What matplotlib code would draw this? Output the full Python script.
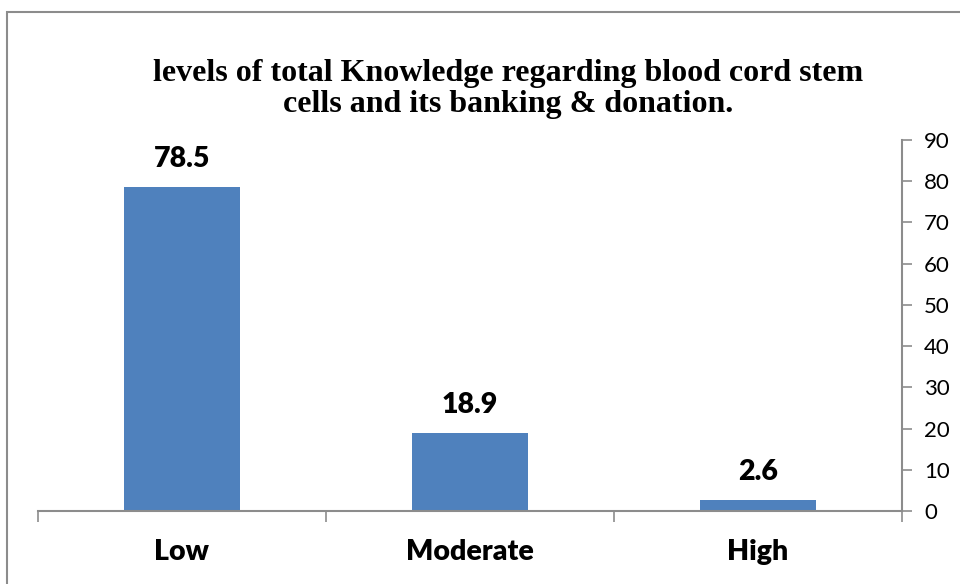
import matplotlib
matplotlib.use("Agg")
import matplotlib.pyplot as plt
from matplotlib.patches import Rectangle

categories = ["Low", "Moderate", "High"]
values = [78.5, 18.9, 2.6]
yticks = [0, 10, 20, 30, 40, 50, 60, 70, 80, 90]
title = "levels of total Knowledge regarding blood cord stem\ncells and its banking & donation."

W, H = 960, 584
fig = plt.figure(figsize=(W/100, H/100), dpi=100)
fig.patches.append(Rectangle((7/W, -0.1), 1.2, 1 - 12/H + 0.1, transform=fig.transFigure,
                             fill=False, edgecolor="#8c8c8c", linewidth=1.5))

ax = fig.add_axes([38/W, 1 - 511/H, (902-38)/W, (511-140)/H])
x = range(len(categories))
ax.bar(x, values, width=0.40, color="#4F81BD", zorder=2)
ax.set_xlim(-0.5, len(categories) - 0.5)
ax.set_ylim(0, 90)

for s in ["top", "left"]:
    ax.spines[s].set_visible(False)
ax.spines["bottom"].set_color("#8c8c8c")
ax.spines["bottom"].set_linewidth(1.5)
ax.spines["right"].set_color("#8c8c8c")
ax.spines["right"].set_linewidth(1.5)

ax.yaxis.tick_right()
ax.set_yticks(yticks)
ax.set_yticklabels([str(t) for t in yticks], fontsize=16, family="Lato")
ax.tick_params(axis="y", direction="out", length=7, color="#8c8c8c", width=1.2, pad=9)

ax.set_xticks([-0.5, 0.5, 1.5, 2.5], minor=False)
ax.set_xticklabels([])
ax.tick_params(axis="x", direction="out", length=8, color="#8c8c8c", width=1.2)
for i, c in enumerate(categories):
    ax.text(i, -0.075, c, transform=ax.get_xaxis_transform(), ha="center", va="top",
            fontsize=20.5, fontweight="heavy", family="Lato")

for i, v in enumerate(values):
    ax.annotate(f"{v}", (i, v), xytext=(0, 11), textcoords="offset points",
                ha="center", va="bottom", fontsize=20.5, fontweight="heavy", family="Lato")

fig.text(508/W, 1 - 89/H, title, ha="center", va="center", fontsize=23,
         fontweight="bold", family="Liberation Serif", linespacing=1.12)

fig.savefig("out.png", dpi=100)
